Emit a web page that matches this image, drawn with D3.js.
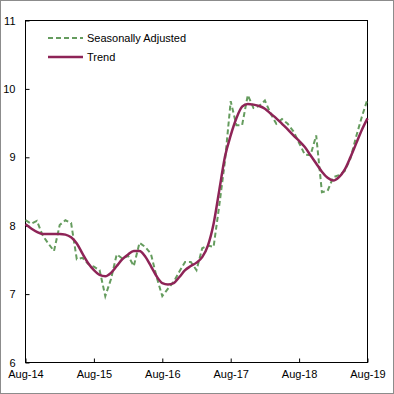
<!DOCTYPE html>
<html>
<head>
<meta charset="utf-8">
<script src="https://cdn.jsdelivr.net/npm/d3@7"></script>
<style>
  html, body { margin: 0; padding: 0; background: #fff; }
  svg { display: block; font-family: "Liberation Sans", Arial, sans-serif; }
</style>
</head>
<body>
<svg id="chart" width="394" height="394"></svg>
<script>
// Monthly observations, Aug-14 .. Aug-19 (61 months)
const seasonallyAdjusted = [
  8.08, 8.03, 8.07, 7.86, 7.74, 7.63, 8.01, 8.08, 8.04, 7.51, 7.53, 7.44,
  7.40, 7.35, 6.97, 7.22, 7.58, 7.52, 7.56, 7.41, 7.75, 7.69, 7.59, 7.25,
  6.97, 7.08, 7.18, 7.33, 7.47, 7.47, 7.35, 7.67, 7.71, 7.69, 8.30, 8.95,
  9.82, 9.47, 9.47, 9.91, 9.72, 9.75, 9.83, 9.64, 9.49, 9.56, 9.49, 9.38,
  9.21, 9.04, 9.03, 9.32, 8.49, 8.51, 8.71, 8.74, 8.80, 8.98, 9.30, 9.59,
  9.85
];
const trend = [
  8.02, 7.96, 7.91, 7.88, 7.88, 7.88, 7.88, 7.87, 7.83, 7.74, 7.59, 7.45,
  7.35, 7.28, 7.26, 7.31, 7.41, 7.51, 7.58, 7.63, 7.63, 7.55, 7.41, 7.26,
  7.16, 7.14, 7.16, 7.25, 7.35, 7.41, 7.46, 7.54, 7.71, 8.03, 8.52, 9.01,
  9.32, 9.57, 9.74, 9.78, 9.77, 9.75, 9.71, 9.64, 9.57, 9.49, 9.41, 9.32,
  9.24, 9.15, 9.03, 8.91, 8.79, 8.70, 8.66, 8.71, 8.82, 9.00, 9.20, 9.40,
  9.57
];
const xTickIndex = [0, 12, 24, 36, 48, 60];
const xTickLabels = ["Aug-14", "Aug-15", "Aug-16", "Aug-17", "Aug-18", "Aug-19"];
const yTicks = [6, 7, 8, 9, 10, 11];
const seriesNames = ["Seasonally Adjusted", "Trend"];

const svg = d3.select("#chart");
const L = 25.5, R = 367.5, T = 20.5, B = 362.5;
const x = d3.scaleLinear().domain([0, 60]).range([L, R]);
const y = d3.scaleLinear().domain([6, 11]).range([B, T]);

// outer grey frame
svg.append("rect").attr("x", 0.5).attr("y", 0.5).attr("width", 393).attr("height", 393)
  .attr("fill", "#fff").attr("stroke", "#8c8c8c").attr("stroke-width", 1);

// axes
const yAxis = d3.axisLeft(y).tickValues(yTicks).tickFormat(d3.format("d"))
  .tickSizeInner(-4).tickSizeOuter(0).tickPadding(10);
const gy = svg.append("g").attr("transform", `translate(${L},0)`).call(yAxis);
const xAxis = d3.axisBottom(x).tickValues(xTickIndex)
  .tickFormat((d, i) => xTickLabels[i])
  .tickSizeInner(-4).tickSizeOuter(0).tickPadding(8);
const gx = svg.append("g").attr("transform", `translate(0,${B})`).call(xAxis);
[gx, gy].forEach(g => {
  g.select(".domain").remove();
  g.selectAll("text").attr("font-size", 11).attr("fill", "#000")
    .attr("font-family", '"Liberation Sans", Arial, sans-serif');
  g.selectAll("line").attr("stroke", "#000");
});

// plot box
svg.append("rect").attr("x", L).attr("y", T).attr("width", R - L).attr("height", B - T)
  .attr("fill", "none").attr("stroke", "#000").attr("stroke-width", 1);

const greenCol = "#659c5e";
const trendCol = "#8e2457";

const lineSA = d3.line().x((d, i) => x(i)).y(d => y(d));
const lineTr = d3.line().x((d, i) => x(i)).y(d => y(d)).curve(d3.curveMonotoneX);

svg.append("path").datum(seasonallyAdjusted).attr("d", lineSA)
  .attr("fill", "none").attr("stroke", greenCol).attr("stroke-width", 2)
  .attr("stroke-dasharray", "5,3");
svg.append("path").datum(trend).attr("d", lineTr)
  .attr("fill", "none").attr("stroke", trendCol).attr("stroke-width", 2.5);

// legend
const leg = svg.append("g");
const legItems = [
  { name: seriesNames[0], col: greenCol, dash: "5,3", w: 2, yy: 38 },
  { name: seriesNames[1], col: trendCol, dash: null, w: 2.5, yy: 57 }
];
legItems.forEach(it => {
  leg.append("line").attr("x1", 48).attr("x2", 83).attr("y1", it.yy).attr("y2", it.yy)
    .attr("stroke", it.col).attr("stroke-width", it.w)
    .attr("stroke-dasharray", it.dash);
  leg.append("text").attr("x", 87).attr("y", it.yy).attr("dy", "0.35em")
    .attr("font-size", 11).attr("fill", "#000").text(it.name);
});
</script>
</body>
</html>
